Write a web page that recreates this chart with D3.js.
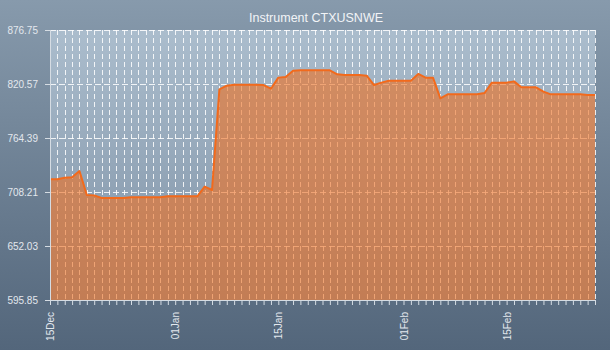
<!DOCTYPE html>
<html>
<head>
<meta charset="utf-8">
<script src="https://cdn.jsdelivr.net/npm/d3@7"></script>
<style>
html,body{margin:0;padding:0;background:#6f8296;}
svg{display:block;}
</style>
</head>
<body>
<svg id="chart" width="610" height="350"></svg>
<script>
const title = "Instrument CTXUSNWE";
const startDate = "2014-12-15";
const endDate = "2015-02-27";
const values = [
  721.4, 721.4, 723.1, 723.5, 730.0, 705.1, 704.7, 702.0, 702.0, 702.0,
  702.0, 702.7, 702.7, 702.7, 702.7, 702.7, 703.7, 703.7, 703.7, 703.7,
  703.7, 713.8, 710.3, 815.0, 818.8, 819.9, 819.9, 819.9, 819.9, 819.5,
  815.7, 827.2, 827.9, 834.4, 834.8, 834.8, 834.8, 834.8, 834.8, 830.6,
  829.9, 829.9, 829.9, 829.2, 819.5, 822.0, 824.0, 824.0, 824.0, 824.0,
  831.0, 827.2, 827.2, 805.7, 809.8, 809.8, 809.8, 809.8, 809.8, 811.2,
  822.0, 822.0, 822.0, 823.3, 817.1, 817.1, 817.1, 812.6, 809.8, 809.8,
  809.8, 809.8, 809.8, 809.1, 809.1
];
const yTicks = [595.85, 652.03, 708.21, 764.39, 820.57, 876.75];
const xLabelDates = ["2014-12-15", "2015-01-01", "2015-01-15", "2015-02-01", "2015-02-15"];

const parse = d3.timeParse("%Y-%m-%d");
const fmt = d3.timeFormat("%d%b");
const t0 = parse(startDate), t1 = parse(endDate);
const days = d3.timeDay.range(t0, d3.timeDay.offset(t1, 1));
const data = days.map((d, i) => ({date: d, value: values[i]}));
const labelSet = new Set(xLabelDates.map(s => +parse(s)));

const W = 610, H = 350;
const m = {left: 50, right: 15, top: 30, bottom: 50};
const svg = d3.select("#chart");
const defs = svg.append("defs");

const bgG = defs.append("linearGradient").attr("id", "bg").attr("x1", 0).attr("y1", 0).attr("x2", 0).attr("y2", 1);
bgG.append("stop").attr("offset", "0%").attr("stop-color", "#879aac");
bgG.append("stop").attr("offset", "100%").attr("stop-color", "#53667b");
const plG = defs.append("linearGradient").attr("id", "pl").attr("x1", 0).attr("y1", 0).attr("x2", 0).attr("y2", 1);
plG.append("stop").attr("offset", "0%").attr("stop-color", "#abbdcd");
plG.append("stop").attr("offset", "100%").attr("stop-color", "#7e91a5");

svg.append("rect").attr("width", W).attr("height", H).attr("fill", "url(#bg)");

const x = d3.scaleTime().domain([t0, t1]).range([m.left, W - m.right]);
const y = d3.scaleLinear().domain([yTicks[0], yTicks[yTicks.length - 1]]).range([H - m.bottom, m.top]);

svg.append("rect")
  .attr("x", m.left).attr("y", m.top)
  .attr("width", W - m.right - m.left).attr("height", H - m.bottom - m.top)
  .attr("fill", "url(#pl)");

// grid
const grid = svg.append("g").attr("stroke", "#ffffff").attr("stroke-opacity", 0.85).attr("stroke-width", 1);
grid.selectAll("line.v").data(days.slice(1)).join("line")
  .attr("x1", d => Math.round(x(d)) + 0.5).attr("x2", d => Math.round(x(d)) + 0.5)
  .attr("y1", m.top).attr("y2", H - m.bottom)
  .attr("stroke-dasharray", "5,3");
grid.selectAll("line.h").data(yTicks.slice(1)).join("line")
  .attr("x1", m.left).attr("x2", W - m.right)
  .attr("y1", d => Math.round(y(d)) + 0.5).attr("y2", d => Math.round(y(d)) + 0.5)
  .attr("stroke-dasharray", "6,3");

// area + line
const area = d3.area().x(d => x(d.date)).y0(y(yTicks[0])).y1(d => y(d.value));
const line = d3.line().x(d => x(d.date)).y(d => y(d.value));
svg.append("path").datum(data).attr("d", area).attr("fill", "#f07020").attr("fill-opacity", 0.6);
svg.append("path").datum(data).attr("d", line).attr("fill", "none")
  .attr("stroke", "#f26a1c").attr("stroke-width", 2).attr("stroke-linejoin", "round");

// axes
const font = "'Liberation Sans', Arial, sans-serif";
const yAxis = d3.axisLeft(y).tickValues(yTicks).tickFormat(d3.format(".2f")).tickSize(5).tickPadding(7);
const gy = svg.append("g").attr("transform", `translate(${m.left},0)`).call(yAxis);
gy.select(".domain").attr("stroke", "#d5dce3").attr("d", `M0.5,${m.top}V${H - m.bottom}`);
gy.selectAll(".tick line").attr("stroke", "#d5dce3");
gy.selectAll(".tick text").attr("fill", "#e3e8ee").style("font-family", font).style("font-size", "10px");

const xAxis = d3.axisBottom(x).tickValues(days).tickSize(5).tickPadding(8)
  .tickFormat(d => labelSet.has(+d) ? fmt(d) : "");
const gx = svg.append("g").attr("transform", `translate(0,${H - m.bottom})`).call(xAxis);
gx.select(".domain").attr("stroke", "#d5dce3").attr("d", `M${m.left},0.5H${W - m.right}`);
gx.selectAll(".tick line").attr("stroke", "#d5dce3");
gx.selectAll(".tick text")
  .attr("fill", "#e3e8ee").style("font-family", font).style("font-size", "10px")
  .attr("text-anchor", "end")
  .attr("transform", "rotate(-90)")
  .attr("x", -12).attr("y", 0).attr("dy", "0.35em");

svg.append("text")
  .attr("x", 316).attr("y", 22)
  .attr("text-anchor", "middle")
  .attr("fill", "#f2f4f7")
  .style("font-family", font).style("font-size", "12.5px")
  .text(title);
</script>
</body>
</html>
